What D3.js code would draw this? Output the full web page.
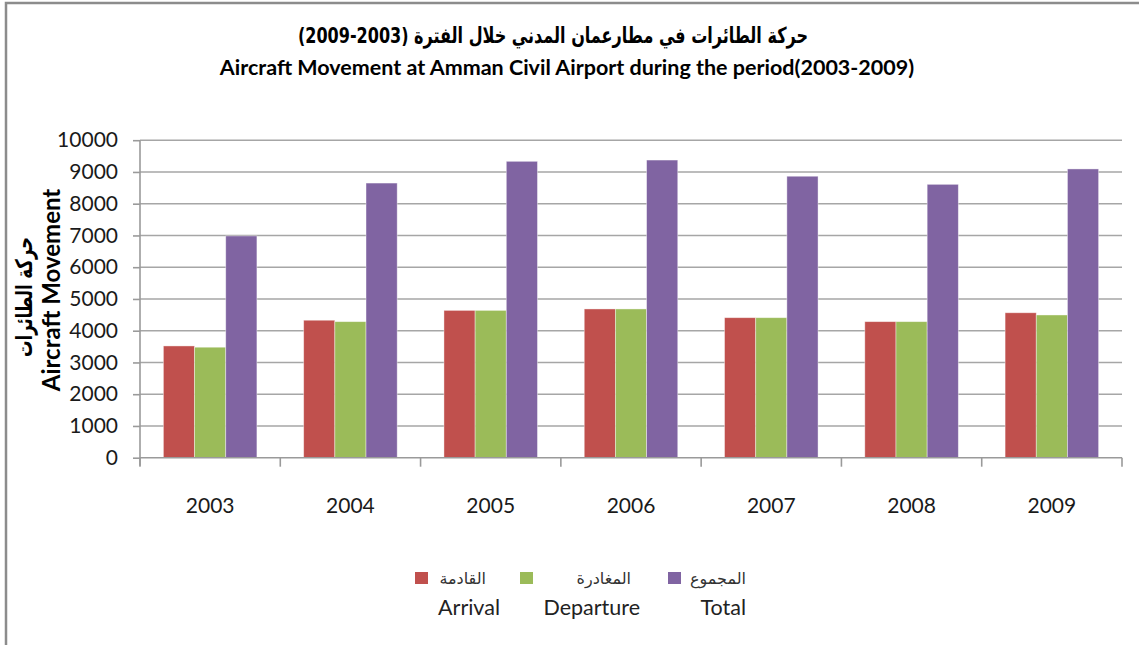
<!DOCTYPE html>
<html lang="ar">
<head>
    <meta charset="UTF-8">
    <title>Aircraft Movement at Amman Civil Airport</title>
    <script src="https://d3js.org/d3.v7.min.js"></script>
    <style>
        body { margin: 0; background: #fff; }
        svg { display: block; }
        .grid line { stroke: #a6a6a6; stroke-width: 1.6; }
        .axis path, .axis line { stroke: #9a9a9a; stroke-width: 1.6; fill: none; }
        .axis text { font-family: Lato, "Open Sans", sans-serif; font-size: 21px; fill: #1a1a1a; }
    </style>
</head>
<body>
<svg width="1139" height="645"></svg>
<script>
    // data
    const years = ["2003", "2004", "2005", "2006", "2007", "2008", "2009"];
    const arrival = [3520, 4330, 4640, 4685, 4410, 4285, 4565];
    const departure = [3480, 4285, 4640, 4685, 4410, 4285, 4495];
    const total = [6985, 8650, 9335, 9375, 8865, 8610, 9095];
    const yTicks = [0, 1000, 2000, 3000, 4000, 5000, 6000, 7000, 8000, 9000, 10000];
    const seriesNames = ["arrival", "departure", "total"];
    const seriesColors = ["#C0504D", "#9BBB59", "#8064A2"];
    const legendAr = ["القادمة", "المغادرة", "المجموع"];
    const legendEn = ["Arrival", "Departure", "Total"];

    const values = { arrival: arrival, departure: departure, total: total };

    const svg = d3.select("svg");

    // outer frame of the chart area
    svg.append("rect")
        .attr("x", 6).attr("y", 3)
        .attr("width", 1200).attr("height", 700)
        .attr("fill", "none")
        .attr("stroke", "#8c8c8c")
        .attr("stroke-width", 2.5);

    const plotLeft = 140, plotRight = 1122, plotTop = 140.2, plotBottom = 457.7;

    const x = d3.scaleBand().domain(years).range([plotLeft, plotRight]).padding(0);
    const xs = d3.scaleBand().domain(seriesNames).range([0, x.bandwidth()])
        .paddingInner(0).paddingOuter(0.75);
    const y = d3.scaleLinear().domain([0, 10000]).range([plotBottom, plotTop]);

    // gridlines
    svg.append("g").attr("class", "grid")
        .selectAll("line")
        .data(yTicks.filter(d => d > 0))
        .enter().append("line")
        .attr("x1", plotLeft).attr("x2", plotRight)
        .attr("y1", d => y(d)).attr("y2", d => y(d));

    // bars
    const groups = svg.append("g")
        .selectAll("g")
        .data(years)
        .enter().append("g")
        .attr("transform", d => "translate(" + x(d) + ",0)");

    groups.selectAll("rect")
        .data((yr, i) => seriesNames.map((s, j) => ({ s: s, v: values[s][i], c: seriesColors[j] })))
        .enter().append("rect")
        .attr("x", d => xs(d.s))
        .attr("width", xs.bandwidth())
        .attr("y", d => y(d.v))
        .attr("height", d => plotBottom - y(d.v))
        .attr("fill", d => d.c)
        .attr("stroke", "rgba(255,255,255,0.5)")
        .attr("stroke-width", 0.8);

    // y axis
    const yAxis = svg.append("g")
        .attr("class", "axis")
        .attr("transform", "translate(" + plotLeft + ",0)")
        .call(d3.axisLeft(y).tickValues(yTicks).tickSize(7).tickPadding(15).tickFormat(d3.format("d")));
    yAxis.select(".domain").attr("d", "M0," + plotTop + "V" + (plotBottom + 8));

    // x axis with ticks between categories
    const xAxis = svg.append("g")
        .attr("class", "axis")
        .attr("transform", "translate(0," + plotBottom + ")")
        .call(d3.axisBottom(x).tickSize(0).tickPadding(40));
    xAxis.select(".domain").attr("d", "M" + plotLeft + ",0H" + plotRight);
    xAxis.selectAll(".sep")
        .data(years.map(d => x(d)).concat([plotRight]))
        .enter().append("line")
        .attr("x1", d => d).attr("x2", d => d)
        .attr("y1", 0).attr("y2", 9);

    // titles
    svg.append("text")
        .attr("x", 553).attr("y", 43)
        .attr("text-anchor", "middle")
        .attr("direction", "rtl")
        .attr("textLength", 510)
        .attr("lengthAdjust", "spacingAndGlyphs")
        .style("font-family", "'DejaVu Sans', sans-serif")
        .style("font-weight", "bold")
        .style("font-size", "22px")
        .text("حركة الطائرات في مطارعمان المدني خلال الفترة (2003-2009)");

    svg.append("text")
        .attr("x", 567).attr("y", 75)
        .attr("text-anchor", "middle")
        .style("font-family", "Lato, sans-serif")
        .style("font-weight", "bold")
        .style("font-size", "21.5px")
        .text("Aircraft Movement at Amman Civil Airport during the period(2003-2009)");

    // y axis title, two lines
    svg.append("text")
        .attr("transform", "translate(32,297) rotate(-90)")
        .attr("text-anchor", "middle")
        .attr("direction", "rtl")
        .attr("textLength", 120)
        .attr("lengthAdjust", "spacingAndGlyphs")
        .style("font-family", "'DejaVu Sans', sans-serif")
        .style("font-weight", "bold")
        .style("font-size", "23px")
        .text("حركة الطائرات");

    svg.append("text")
        .attr("transform", "translate(60,290) rotate(-90)")
        .attr("text-anchor", "middle")
        .style("font-family", "Lato, sans-serif")
        .style("font-weight", "bold")
        .style("font-size", "24px")
        .text("Aircraft Movement");

    // legend
    const legendSquareX = [415, 520, 668];
    const legendArEnd = [486, 631, 746];
    const legendEnEnd = [500, 640, 746];
    const legend = svg.append("g");
    seriesNames.forEach((s, i) => {
        legend.append("rect")
            .attr("x", legendSquareX[i]).attr("y", 572)
            .attr("width", 13).attr("height", 12)
            .attr("fill", seriesColors[i]);
        legend.append("text")
            .attr("x", legendArEnd[i]).attr("y", 584)
            .attr("text-anchor", "start")
            .attr("direction", "rtl")
            .style("font-family", "'DejaVu Sans', sans-serif")
            .style("font-size", "16px")
            .style("fill", "#333")
            .text(legendAr[i]);
        legend.append("text")
            .attr("x", legendEnEnd[i]).attr("y", 615)
            .attr("text-anchor", "end")
            .style("font-family", "Lato, sans-serif")
            .style("font-size", "21.5px")
            .style("fill", "#222")
            .text(legendEn[i]);
    });
</script>
</body>
</html>
